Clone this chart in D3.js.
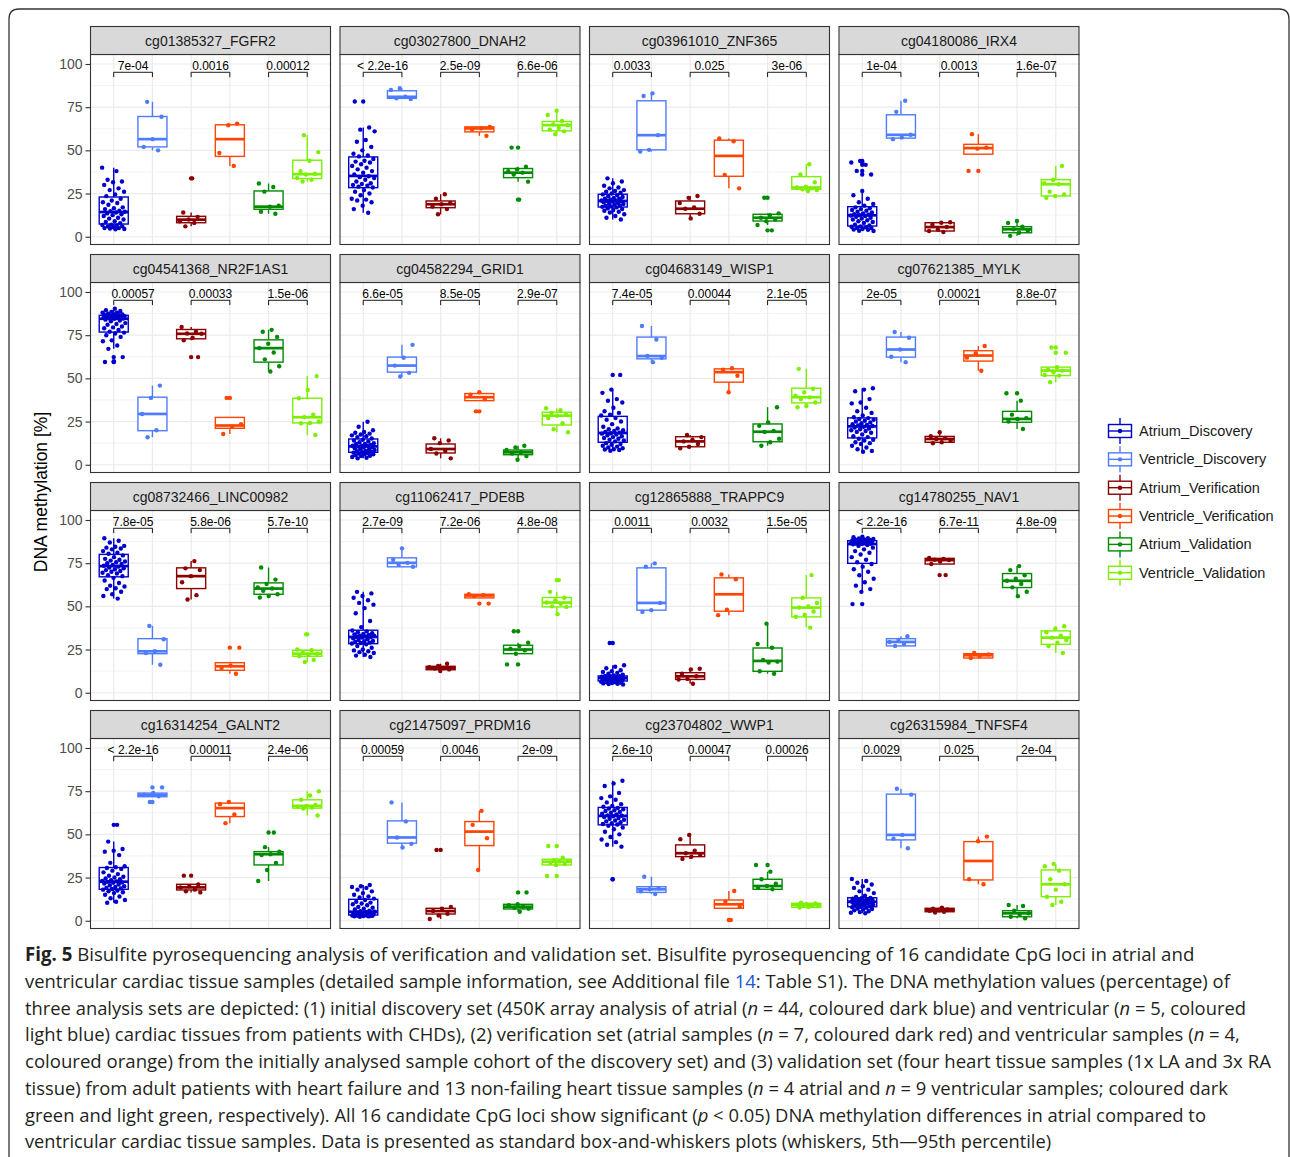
<!DOCTYPE html>
<html><head><meta charset="utf-8">
<script src="https://cdn.jsdelivr.net/npm/d3@7"></script>
<style>body{margin:0;background:#fff}svg{display:block}</style>
</head><body><svg id="fig" width="1290" height="1157"></svg>
<script>
// ---- data -------------------------------------------------------------
const probes = ["cg01385327_FGFR2","cg03027800_DNAH2","cg03961010_ZNF365","cg04180086_IRX4",
  "cg04541368_NR2F1AS1","cg04582294_GRID1","cg04683149_WISP1","cg07621385_MYLK",
  "cg08732466_LINC00982","cg11062417_PDE8B","cg12865888_TRAPPC9","cg14780255_NAV1",
  "cg16314254_GALNT2","cg21475097_PRDM16","cg23704802_WWP1","cg26315984_TNFSF4"];

const groups = ["Atrium_Discovery","Ventricle_Discovery","Atrium_Verification",
  "Ventricle_Verification","Atrium_Validation","Ventricle_Validation"];

// p-values of the three atrium vs ventricle comparisons per probe
const pValues = [
  ["7e-04","0.0016","0.00012"],["< 2.2e-16","2.5e-09","6.6e-06"],["0.0033","0.025","3e-06"],["1e-04","0.0013","1.6e-07"],
  ["0.00057","0.00033","1.5e-06"],["6.6e-05","8.5e-05","2.9e-07"],["7.4e-05","0.00044","2.1e-05"],["2e-05","0.00021","8.8e-07"],
  ["7.8e-05","5.8e-06","5.7e-10"],["2.7e-09","7.2e-06","4.8e-08"],["0.0011","0.0032","1.5e-05"],["< 2.2e-16","6.7e-11","4.8e-09"],
  ["< 2.2e-16","0.00011","2.4e-06"],["0.00059","0.0046","2e-09"],["2.6e-10","0.00047","0.00026"],["0.0029","0.025","2e-04"]];

// box statistics per probe and group: [lower whisker, Q1, median, Q3, upper whisker]
const boxStats = [
  [[4.3,7.35,14.3,23,40],[50,52,56.5,69.6,78.1],[6,8.1,9.9,11.8,14],[41,46.5,56.5,64.8,65.5],[13.3,15.9,17.4,26.5,30.8],[32,33.7,36.2,44.3,58.8]],
  [[13.9,28.4,35.2,46.2,63.2],[79.7,80.1,81,84.5,86],[13,16.8,18.8,20.7,24.6],[58.4,60.7,62.7,63.6,63.6],[31.9,34.2,37.1,39.5,40.5],[59.4,61.3,64.6,66.7,72.9]],
  [[10,17.2,20.7,24.6,33.8],[49.3,50.3,58.8,78.7,83],[10.6,13.3,16.2,20.7,23.6],[28,35,46.8,55.9,56.9],[6.8,9.1,11,13,13.5],[26.5,27.5,28.5,34.8,42]],
  [[3.3,6.2,12.4,17.4,26.5],[56.5,57.1,59,70.6,78.7],[2.7,3.3,5.6,8.1,8.4],[47.8,47.8,51.3,53.5,59.4],[0.5,2.3,4.3,5.8,9.1],[22.6,23.6,30.4,33,41]],
  [[67.1,76.8,84.5,86.5,90.3],[15.9,19.7,29.4,39.1,45.8],[72,72.9,75.8,78.3,79.7],[17.8,21.1,22.7,27.4,27.4],[54,59.4,67.5,72.3,78.1],[17.2,24.2,27.5,38.5,51.3]],
  [[3.7,7.2,10.6,14.9,24.9],[51.1,53.6,57.4,62.3,69.4],[3.7,6.8,9.1,12,15.3],[37.1,37.1,39.1,41.2,42],[2.9,5.8,7.2,8.5,11],[18.8,23,28.4,30.4,32.7]],
  [[8.1,13,18.4,28,43.5],[59.4,61.3,62.9,73.9,80.3],[9.5,10.4,13.5,16.2,17.2],[42,47.8,53.6,55.5,55.9],[11,13.3,19.1,23.6,33.3],[33.3,35.8,39.1,44.3,55.5]],
  [[7.5,15.5,22.2,27.1,44.3],[59.4,62.3,66.7,73.9,76.8],[12.4,13,14.9,16.4,18.8],[54.4,60,63.2,66,68.7],[20.7,24.6,26.5,30.9,37.1],[47.8,51.6,54.5,56.5,56.5]],
  [[54.5,67.1,73.3,80.1,89.4],[16.2,22.6,24,31.3,38.7],[54,60.3,67.5,72.3,76.2],[11,13,15.3,17.4,17.4],[55.1,57,60.3,63.6,72.5],[17.8,21.1,22.6,24.6,25]],
  [[20.7,28.4,32.3,36.2,58.4],[72.9,72.9,75.2,78.1,83.6],[12.6,13.3,14.3,15.3,16.8],[54.9,54.9,56.3,57,57],[22.6,22.6,25,27.5,29],[45.5,49.7,52.2,55.1,58.4]],
  [[4.8,6.8,8.5,9.7,15.9],[46.8,47.8,52,72.3,74.9],[5.2,7.7,9.5,11.6,13.9],[44.9,47.2,57,66.5,68.5],[11,12.4,18.4,25.9,40],[37.7,43.9,49.3,54.9,68.1]],
  [[58.4,74.9,86.1,88,90.3],[27.1,27.1,29.4,31.3,32.7],[74.5,74.5,76.8,77.8,78],[20.1,20.1,21.7,22.6,23],[55.9,60.9,64.8,69,73.3],[23,28,31.9,35.8,38.5]],
  [[10.4,18.2,22.6,30.8,45.8],[71.8,71.8,72.9,73.9,74],[16.4,17.8,19.3,21.1,21.1],[56.5,60.3,65.2,68.1,68.7],[23,32.3,38.5,40,42.6],[60.9,65.2,66.5,70,74.9]],
  [[2.3,3.3,5.2,12.4,20.7],[42.4,44.9,48.2,57.8,68.5],[1,3.9,5.6,7.2,8],[29.4,43.5,51.6,57.4,63.6],[5.2,6.8,8.1,9.5,9.5],[32.3,32.3,34.2,35.6,36.5]],
  [[42.9,55.5,60.7,65.6,81],[15.5,16.4,18.2,19.7,25.5],[35.8,37.1,39.1,43.9,49.7],[7.2,7.2,9.5,12,17.2],[18.2,18.2,20.1,24,28.4],[7.7,7.7,9.1,10.1,10.5]],
  [[4.3,8.1,11,13.3,24.2],[42,46.8,49.7,73.3,76.4],[4.8,5.2,6.2,7.2,7.6],[21.1,23.6,34.6,45.8,48.7],[1.4,2.3,4.3,5.8,9.1],[9.1,13.9,21.1,29.4,32.9]]];

// individual sample values (DNA methylation, %) per probe and group
const samples = [
  [[40,38,33,32,31.5,30,28,27,26,24.5,23.5,22,21,20,19.5,18.5,17,16.5,16,15,14.8,14.5,14,13.5,13,12.5,12,11,10.5,10,9,8.5,7.8,7,6.8,6.5,6,6,5.5,5,5,4.8,4.5,4.3],
   [78.1,69.5,56.5,52,50],[33.8,14,11.5,10,9,8,6],[65.5,64.5,48.5,41],[30.8,28.8,26.1,18,17.4,14.5,13.3],[58.8,49,44,38,36.5,36,34,33,32]],
  [[78.3,63.2,62,61,56,55,52,50,48,47,46.5,45,44,43.5,43,42,41,40,39,38,37,36,35,34.5,34,33,32,31,30.5,30,29.5,29,28.5,27,26,25,24,22,21.5,21,20,18,16,13.9],
   [86,85,81,80.1,79.7],[24.6,22,19.5,18.8,17.5,16,13],[63.6,62.8,62,58.4],[51.6,40.5,39,38,37.1,36,31.9,21.5],[72.9,70.5,67,65,64.6,63,62,61,59.4]],
  [[33.8,32,31,29.5,28.5,28,27,26.5,26,25.5,25,24.5,24,23.5,23,22.5,22,22,21.5,21,21,20.8,20.5,20.3,20,19.5,19,19,18.5,18,18,17.5,17.3,17,16.5,16,15.5,15,14.5,14,13,12,11,10],
   [83,81.5,58.8,50.3,49.3],[23.6,22.5,19.5,17,16.2,13.3,10.6],[56.9,55.3,35.8,28],[22.6,13.5,12.4,11,10,9,6.8,3.7],[42,36,31.5,29,28.5,28,27.5,27,26.5]],
  [[43.9,43,41.6,38.1,36,26.5,24,22,20,19,18,17,16.5,16,15.5,15,14.5,14,13.5,13,12.8,12.5,12.3,12,11.5,11,10.5,10,9.5,9,8.5,8,7,6.5,6,5.8,5.5,5,5,4.5,4.2,4,3.5,3.3],
   [78.7,72.3,59,57.5,56.5],[8.4,8.1,7,5.6,4.2,3.3,2.7],[59.4,51.6,51,38.1],[9.1,8,5.8,4.3,3.5,2.3,0.5],[41,33,31,30.4,26,24.5,23.6,22.6]],
  [[90.3,89.5,89,88.5,88,88,87.5,87,87,86.8,86.5,86.3,86,86,85.8,85.5,85.3,85,85,84.8,84.6,84.5,84,83.5,83,82,81.5,81,80,79.5,79,78,77,76.5,76,75,74,72,71.5,69,67.1,62.3,59.8,59.5],
   [45.8,38.7,29.4,20,15.9],[79.7,77,76,75.8,73.5,72,62.3],[38.7,23.5,22,17.8],[78.1,77,74,70,67.5,65,61,57,54],[51.3,43.3,38.5,29,27.5,25,24.2,24,17.2]],
  [[24.9,22,20,19,18.5,18,17.5,17,16.5,16,15.2,14.5,14,13.5,13,12.5,12,12,11.5,11,11,10.8,10.5,10.2,10,9.5,9,9,8.5,8,7.8,7.5,7.3,7,6.8,6.5,6,6,5.5,5.2,5,4.5,4,3.7],
   [69.4,61.9,57.4,53.2,51.1],[15.3,14,12.5,9.1,8,6.5,3.7],[42,40.6,37.9,30.9],[11,10,8.5,7.2,6.5,5,2.9],[32.7,31.5,30,29,28.4,27,24,20.5,18.8]],
  [[52,43.5,41.6,38,37,36,33,31,30,29,28.5,27,26,25,23.5,22,21,20.5,20,19.5,19,18.6,18.2,18,17.5,17,16.5,16,15.5,15,14.5,14,13.5,12.5,12,11.5,11,10.5,10,9.5,9,8.8,8.5,8.1],
   [80.3,72.5,63,61.9,59.4],[17.2,16,14.5,13.5,12,10.4,9.5],[55.9,55,51.5,42],[33.3,24.5,22.5,19.5,19,15,13,11],[55.5,44,42,40,39,38,36,34,33.3]],
  [[44.3,43.5,42.5,38,36,35.5,33,31,30,28.5,27.5,27,26.5,26,25.5,25,24.5,24,23.5,23,22.8,22.4,22,21.5,21,20.5,20,19.5,19,18.5,17.5,16.5,16,15,14.5,14,13,12.5,12,11,10,9,8,7.5],
   [76.8,73.5,66.7,62.5,59.4],[18.8,16.5,15.5,14.9,14,13,12.4],[68.7,64.5,62,54.4],[41.4,37.1,29,27,26.5,25,20.7],[67.9,64.8,56.5,55,54.5,53.5,52,51.6,47.8]],
  [[89.4,88,87,85,84.5,84,83.5,83,82,81,80.5,79.5,78.5,77.5,77,76.5,76,75.5,75,74.5,74,73.5,73,72.5,72,71.5,71,70.5,70,69.5,69,68,67.5,66.5,65,63.5,62,61.5,60.5,60,58.5,57,56,54.5],
   [38.7,31,24,23,16.2],[76.2,72,71,67.5,64,56.5,54],[26.1,15.8,14.3,11],[72.5,65.5,63,61,60.3,59,57,56,55.1],[33.8,25,24.6,23.5,22.6,22,21.1,19,17.8]],
  [[58.4,57.5,56,55,53.5,52,51,49,46,41.5,38,36,35.5,35,34.5,34,33.8,33.5,33,32.8,32.6,32.4,32.2,32,31.5,31,30.5,30,29.8,29.5,29,28.8,28.5,28,27,26,25,24.5,24,23.5,23,22,21.5,20.7],
   [83.6,77,75.2,74,72.9],[16.8,15.5,14.8,14.3,14,13.5,12.6],[57,56.5,56,51.6],[35.6,29,27,25.5,24.5,22.6,16.4],[65.2,58.4,55,53.5,52.2,51.5,50,49.7,45.5]],
  [[28.8,15.9,15,14.2,13,12.5,12,11.5,11,10.5,10,9.7,9.6,9.5,9.3,9.2,9,8.9,8.8,8.7,8.6,8.5,8.4,8.3,8.2,8,7.8,7.6,7.5,7.3,7.2,7,6.9,6.7,6.5,6.3,6.1,6,5.8,5.6,5.4,5.2,5,4.8],
   [74.9,73,52,47.8,46.8],[13.9,13.5,11,9.5,8,7.7,5.2],[68.5,65.7,48,44.9],[40,28.2,26,19,18,17.5,12.4,11],[68.1,55,52,50,49.3,47,45,44,37.7]],
  [[90.3,90,89.5,89.3,89,88.8,88.6,88.4,88.2,88.1,88,87.8,87.6,87.4,87.2,87,86.8,86.6,86.5,86.4,86.2,86.1,86,85.5,85,84,83,82,81,80,78.5,77,75.5,74.5,73,71.5,70,68,66,64,62,60,58.4,51.3],
   [32.7,30.5,29.4,28.2,27.1],[78,77.5,77,76.8,76,74.5,68.1],[23,22.2,21.2,20.1],[73.3,71,68,66,64.8,63,61,58.5,55.9],[38.5,37,35,33,31.9,30.5,29,27,23]],
  [[55.5,45.8,41.5,40.5,40,38,33.5,31.5,31,30.5,30,29,28,27,26,25.5,25,24.5,24,23.5,23,22.8,22.5,22.2,22,21.5,21,20.5,20,19.5,19,18.7,18.4,18,17.5,17,16.5,16,15,14,13,12,11,10.4],
   [77.2,74,72.9,72,68.7],[26.1,21,20,19.3,18,17,16.4],[68.7,67.5,61.5,56.5],[51.1,42.6,40,38.5,38,33.5,29.4,23],[74.9,72.5,70,67,66.5,66,65.5,65,60.9]],
  [[20.7,20,19.5,19,18,17,16,15,14,13.5,12.8,12,11,10.5,10,9.5,9,8,7.5,7,6.5,5.8,5.5,5.2,5,4.8,4.6,4.4,4.2,4,3.8,3.6,3.4,3.3,3.2,3.1,3,3,2.9,2.8,2.7,2.6,2.5,2.3],
   [68.5,57.5,48.2,44.5,42.4],[41,8,7,5.6,4,3,1],[63.6,55.5,47.8,29.4],[16.4,9.5,9,8.1,7.5,7,5.2],[43.3,36.5,35,34.5,34.2,33.5,33,32.3,25.9]],
  [[81,79.5,78,74,72,71,70,68.5,67.5,66.5,66,65.3,65,64.5,64,63.5,63,62.5,62,61.5,61,60.8,60.5,60,59.5,59,58.5,58,57.5,57,56.5,56,55.7,55,54,53,51.5,50,48.5,47,45.5,44,42.9,24],
   [25.5,18.8,18.2,17,15.5],[49.7,47.2,40.5,39.1,38,37,35.8],[17.2,11,8,0.4],[32.3,28.4,24,21.5,20.1,19,18.2],[10.5,10,9.5,9.2,9.1,8.8,8.5,8,7.7]],
  [[24.2,23,22,21,20,19,18,17,16,14.5,13.8,13.2,13,12.8,12.5,12.2,12,11.8,11.6,11.4,11.2,11.1,11,10.8,10.5,10.2,10,9.8,9.5,9.2,9,8.7,8.4,8,7.8,7.5,7,6.8,6.5,6,5.5,5,4.6,4.3],
   [76.4,73,49.7,47.5,42],[7.6,7,6.5,6.2,5.8,5.2,4.8],[48.7,46,24,21.1],[9.1,8.5,5.8,4.3,3.5,2.3,1.4],[32.9,31.5,29,24,21.1,18,13.9,11,9.1]]];

const yTicks = [0, 25, 50, 75, 100];
const yMinor = [12.5, 37.5, 62.5, 87.5];

// ---- styling ----------------------------------------------------------
const palette = ["#0000cd","#4f7cff","#8b0000","#ff4500","#008b00","#7cf000"];
const FONT = "'Liberation Sans', Arial, Helvetica, sans-serif";

const svg = d3.select("#fig");
svg.append("rect").attr("width",1290).attr("height",1157).attr("fill","#fff");

// frame of the figure
svg.append("path")
  .attr("d","M9,1157 L9,19 Q9,9 19,9 L1279,9 Q1289,9 1289,19 L1289,1157")
  .attr("fill","none").attr("stroke","#333").attr("stroke-width",1.3);

// ---- facet layout -----------------------------------------------------
const colX0 = 90.5, colStep = 249.5, pw = 240;
const rowY0 = 26.5, rowStep = 228, stripH = 28, ph = 190;

const x = d3.scalePoint().domain(groups).range([0, pw]).padding(0.6);
const step = x.step();
const y = d3.scaleLinear().domain([-4.5, 105.5]).range([ph, 0]);
const boxHalf = 0.375 * step;

probes.forEach((probe, p) => {
  const col = p % 4, row = Math.floor(p / 4);
  const px = colX0 + col * colStep;
  const sy = rowY0 + row * rowStep;
  const g = svg.append("g").attr("transform", `translate(${px},${sy + stripH})`);

  // strip
  const strip = svg.append("g").attr("transform", `translate(${px},${sy})`);
  strip.append("rect").attr("width", pw).attr("height", stripH)
    .attr("fill", "#d9d9d9").attr("stroke", "#333").attr("stroke-width", 1.1);
  strip.append("text").attr("x", pw / 2).attr("y", stripH / 2 + 5)
    .attr("text-anchor", "middle").attr("font-family", FONT).attr("font-size", 14)
    .attr("fill", "#1a1a1a").text(probe);

  // panel background and grid
  g.append("rect").attr("width", pw).attr("height", ph).attr("fill", "#fff");
  g.selectAll(".minor").data(yMinor).join("line")
    .attr("x1", 0).attr("x2", pw).attr("y1", d => y(d)).attr("y2", d => y(d))
    .attr("stroke", "#ebebeb").attr("stroke-width", 0.6);
  g.selectAll(".major").data(yTicks).join("line")
    .attr("x1", 0).attr("x2", pw).attr("y1", d => y(d)).attr("y2", d => y(d))
    .attr("stroke", "#ebebeb").attr("stroke-width", 1.2);
  g.selectAll(".vgrid").data(groups).join("line")
    .attr("x1", d => x(d)).attr("x2", d => x(d)).attr("y1", 0).attr("y2", ph)
    .attr("stroke", "#ebebeb").attr("stroke-width", 1.2);

  // boxes
  groups.forEach((grp, gi) => {
    const [lo, q1, med, q3, hi] = boxStats[p][gi];
    const cx = x(grp), col = palette[gi];
    const bg = g.append("g").attr("stroke", col).attr("stroke-width", 1.4);
    bg.append("line").attr("x1", cx).attr("x2", cx).attr("y1", y(q3)).attr("y2", y(Math.max(hi, q3)));
    bg.append("line").attr("x1", cx).attr("x2", cx).attr("y1", y(q1)).attr("y2", y(Math.min(lo, q1)));
    bg.append("rect").attr("x", cx - boxHalf).attr("width", 2 * boxHalf)
      .attr("y", y(q3)).attr("height", Math.max(0.5, y(q1) - y(q3))).attr("fill", "#fff");
    bg.append("line").attr("x1", cx - boxHalf).attr("x2", cx + boxHalf)
      .attr("y1", y(med)).attr("y2", y(med)).attr("stroke-width", 2.7);
    // outlying samples drawn by the box layer on the box axis
    const out = samples[p][gi].filter(v => v > hi + 0.3 || v < lo - 0.3);
    g.selectAll(null).data(out).join("circle")
      .attr("cx", cx).attr("cy", d => y(d)).attr("r", 2.2).attr("fill", col);
  });

  // jittered sample points (deterministic low-discrepancy spread)
  groups.forEach((grp, gi) => {
    const cx = x(grp), col = palette[gi];
    g.selectAll(null).data(samples[p][gi]).join("circle")
      .attr("cx", (d, i) => cx + (((i * 0.6180339887 + p * 0.137 + gi * 0.271) % 1) - 0.5) * 0.6 * step)
      .attr("cy", d => y(d)).attr("r", 2.2).attr("fill", col);
  });

  // comparison brackets
  [[0, 1], [2, 3], [4, 5]].forEach(([a, b], k) => {
    const x1 = x(groups[a]), x2 = x(groups[b]);
    g.append("path")
      .attr("d", `M${x1},${y(92.4)} L${x1},${y(95.2)} L${x2},${y(95.2)} L${x2},${y(92.4)}`)
      .attr("fill", "none").attr("stroke", "#000").attr("stroke-width", 0.9);
    g.append("text").attr("x", (x1 + x2) / 2).attr("y", y(96.6))
      .attr("text-anchor", "middle").attr("font-family", FONT).attr("font-size", 12)
      .attr("fill", "#000").text(pValues[p][k]);
  });

  // panel border
  g.append("rect").attr("width", pw).attr("height", ph)
    .attr("fill", "none").attr("stroke", "#333").attr("stroke-width", 1.1);

  // y axis on the first column
  if (col === 0) {
    const ax = g.append("g").call(d3.axisLeft(y).tickValues(yTicks).tickSize(5).tickPadding(3));
    ax.select(".domain").remove();
    ax.selectAll(".tick line").attr("stroke", "#333").attr("stroke-width", 1.1);
    ax.selectAll(".tick text").attr("font-family", FONT).attr("font-size", 14).attr("fill", "#4d4d4d");
  }
});

// y-axis title
svg.append("text").attr("transform", "translate(47,492) rotate(-90)")
  .attr("text-anchor", "middle").attr("font-family", FONT).attr("font-size", 17.5)
  .attr("fill", "#000").text("DNA methylation [%]");

// ---- legend -----------------------------------------------------------
const legend = svg.append("g").attr("transform", "translate(1120,431)");
groups.forEach((grp, gi) => {
  const k = legend.append("g").attr("transform", `translate(0,${gi * 28.35})`);
  const col = palette[gi];
  k.append("line").attr("x1", 0).attr("x2", 0).attr("y1", -13).attr("y2", 13)
    .attr("stroke", col).attr("stroke-width", 1.4);
  k.append("rect").attr("x", -11.5).attr("y", -6.5).attr("width", 23).attr("height", 13)
    .attr("fill", "#fff").attr("stroke", col).attr("stroke-width", 1.4);
  k.append("line").attr("x1", -11.5).attr("x2", 11.5).attr("y1", 0).attr("y2", 0)
    .attr("stroke", col).attr("stroke-width", 1.4);
  k.append("circle").attr("r", 2.2).attr("fill", col);
  k.append("text").attr("x", 19).attr("y", 5).attr("font-family", FONT)
    .attr("font-size", 14.5).attr("fill", "#1a1a1a").text(grp);
});

// ---- caption ----------------------------------------------------------
const captionLines = [
  [["Fig. 5","b"],[" Bisulfite pyrosequencing analysis of verification and validation set. Bisulfite pyrosequencing of 16 candidate CpG loci in atrial and"]],
  [["ventricular cardiac tissue samples (detailed sample information, see Additional file "],["14","link"],[": Table S1). The DNA methylation values (percentage) of"]],
  [["three analysis sets are depicted: (1) initial discovery set (450K array analysis of atrial ("],["n","i"],[" = 44, coloured dark blue) and ventricular ("],["n","i"],[" = 5, coloured"]],
  [["light blue) cardiac tissues from patients with CHDs), (2) verification set (atrial samples ("],["n","i"],[" = 7, coloured dark red) and ventricular samples ("],["n","i"],[" = 4,"]],
  [["coloured orange) from the initially analysed sample cohort of the discovery set) and (3) validation set (four heart tissue samples (1x LA and 3x RA"]],
  [["tissue) from adult patients with heart failure and 13 non-failing heart tissue samples ("],["n","i"],[" = 4 atrial and "],["n","i"],[" = 9 ventricular samples; coloured dark"]],
  [["green and light green, respectively). All 16 candidate CpG loci show significant ("],["p","i"],[" < 0.05) DNA methylation differences in atrial compared to"]],
  [["ventricular cardiac tissue samples. Data is presented as standard box-and-whiskers plots (whiskers, 5th\u201495th percentile)"]]];
const captionRight = [1195, 1230, 1247, 1240, 1272, 1229, 1208, 1052];

captionLines.forEach((segs, li) => {
  const t = svg.append("text").attr("font-family", "'Open Sans', 'Noto Sans', sans-serif")
    .attr("font-size", 19).attr("fill", "#231f20").attr("xml:space", "preserve");
  segs.forEach(([s, kind]) => {
    const ts = t.append("tspan").text(s);
    if (kind === "b") ts.attr("font-weight", "bold");
    if (kind === "i") ts.attr("font-style", "italic");
    if (kind === "link") ts.attr("fill", "#1a56db");
  });
  const w = t.node().getComputedTextLength();
  const sx = (captionRight[li] - 25) / w;
  t.attr("transform", `translate(25,${961 + li * 26.75}) scale(${sx},1)`);
});
</script></body></html>
